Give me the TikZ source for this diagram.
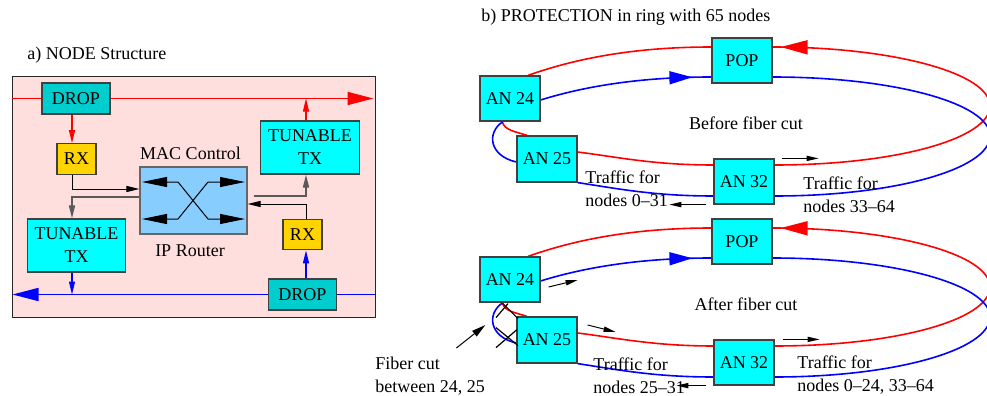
\documentclass[tikz,border=0pt]{standalone}
\usepackage{fontspec}
\setmainfont{Liberation Serif}
\usetikzlibrary{arrows.meta,calc,decorations.markings}
\definecolor{pinkbg}{RGB}{255,222,222}
\definecolor{dropc}{RGB}{0,205,205}
\definecolor{rxc}{RGB}{255,212,0}
\definecolor{routerc}{RGB}{135,206,255}
\definecolor{cyanc}{RGB}{0,255,255}
\newcommand\figfont{\fontsize{9}{11.5}\selectfont}
\pgfdeclarelayer{backlayer}
\pgfdeclarelayer{linelayer}
\pgfsetlayers{backlayer,linelayer,main}
\newcommand\ringnodes[2]{%
  \node[ringnode] (POP#1) at (742,60.5+#2) {POP};
  \node[ringnode] (AN24#1) at (510,98.5+#2) {AN 24};
  \node[ringnode, minimum height=23pt] (AN25#1) at (547,159+#2) {AN 25};
  \node[ringnode] (AN32#1) at (744,181.5+#2) {AN 32};
  \coordinate (RR#1) at ($(POP#1.center)+(248,45.5)$);
  \coordinate (BR#1) at ($(POP#1.center)+(248,75.5)$);
}
\newcommand\ringlines[1]{%
  % red ring
  \draw[redring] ($(POP#1.west)+(0,-13.5)$) .. controls +(-80,0) and +(45,-16) .. ($(AN24#1.north)+(18,0)$);
  \draw[redring, redarr=-4pt] ($(AN32#1.east)+(0,-16.5)$) .. controls +(120,0) and +(0,33) .. (RR#1)
      .. controls +(0,-33) and +(120,0) .. ($(POP#1.east)+(0,-13.5)$);
  \draw[redring] ($(AN25#1.east)+(0,-7)$) .. controls +(40,5) and +(-60,0) .. ($(AN32#1.west)+(0,-16.5)$);
  \draw[redring] ($(AN24#1.south)+(-8,0)$) .. controls +(3,9) and +(-12,-4) .. ($(AN25#1.north)+(-20,0)$);
  % blue ring
  \draw[bluering, bluearr=-9.5pt] ($(AN24#1.east)+(0,1.5)$) .. controls +(45,-14) and +(-70,0) .. ($(POP#1.west)+(0,16.5)$);
  \draw[bluering] ($(POP#1.east)+(0,16.5)$) .. controls +(120,0) and +(0,-33) .. (BR#1)
      .. controls +(0,33) and +(120,0) .. ($(AN32#1.east)+(0,14.5)$);
  \draw[bluering] ($(AN32#1.west)+(0,14.5)$) .. controls +(-60,0) and +(40,6) .. (AN25#1.south east);
  \draw[bluering] ($(AN25#1.west)+(0,3)$) .. controls +(-27,-6) and +(-17,11) .. ($(AN24#1.south)+(-7,0)$);
}
\begin{document}
\begin{tikzpicture}[x=0.5pt,y=-0.5pt, font=\figfont,
  box/.style={draw=black!75, line width=0.6pt, inner sep=0pt, align=center},
  dropbox/.style={box, fill=dropc, minimum width=34pt, minimum height=15.5pt},
  rxbox/.style={box, fill=rxc, minimum width=19.5pt, minimum height=15.25pt},
  txbox/.style={box, fill=cyanc, minimum width=49.25pt, minimum height=26.5pt},
  ringnode/.style={box, fill=cyanc, minimum width=30pt, minimum height=22.5pt},
  lbl/.style={inner sep=0pt, align=left},
  redmain/.style={draw=red, line width=0.8pt, -{Triangle[length=13pt,width=6.5pt]}},
  bluemain/.style={draw=blue, line width=0.8pt, -{Triangle[length=13pt,width=6.5pt]}},
  redthin/.style={draw=red, line width=0.6pt, -{Triangle[length=6.5pt,width=3pt]}},
  bluethin/.style={draw=blue, line width=0.6pt, -{Triangle[length=6.5pt,width=3pt]}},
  blk/.style={draw=black, line width=0.5pt, -{Triangle[length=6.5pt,width=3pt]}},
  gryline/.style={draw=black!65, line width=0.8pt, -{Triangle[length=6.5pt,width=3pt]}},
  bigtip/.style={draw=black, line width=0.5pt, {Triangle[length=12.5pt,width=5pt]}-{Triangle[length=12.5pt,width=5pt]}},
  redring/.style={draw=red, line width=0.8pt},
  bluering/.style={draw=blue, line width=0.8pt},
  redarr/.style={postaction={decorate}, decoration={markings, mark=at position #1 with {\arrow{Triangle[length=13.5pt,width=7pt]}}}},
  bluearr/.style={postaction={decorate}, decoration={markings, mark=at position #1 with {\arrow{Triangle[length=11.5pt,width=6.5pt]}}}},
  tinyarrow/.style={draw=black, line width=0.5pt, -{Triangle[length=6pt,width=2.6pt]}},
  cutline/.style={draw=black, line width=0.6pt},
]
\useasboundingbox (0,0) rectangle (987,396);

% ---------------- a) NODE Structure ----------------
\begin{pgfonlayer}{backlayer}
  \node[draw=black!85, line width=0.5pt, fill=pinkbg, minimum width=181.5pt, minimum height=120.5pt, inner sep=0pt] (bg) at (193.5,196.5) {};
\end{pgfonlayer}

\node[lbl, anchor=west] (ttla) at (27,55) {a) NODE Structure};
\node[dropbox] (DROP1) at (76,98.5) {DROP};
\node[rxbox] (RX1) at (76.5,159) {RX};
\node[txbox] (TTX1) at (310,147.5) {TUNABLE\\TX};
\node[box, fill=routerc, draw=black!60, minimum width=53.5pt, minimum height=33.5pt] (R) at (193.5,200.5) {};
\node[txbox] (TTX2) at (76.5,245.5) {TUNABLE\\TX};
\node[rxbox] (RX2) at (302.5,234.5) {RX};
\node[dropbox] (DROP2) at (302.5,294.5) {DROP};
\node[lbl] (mac) at (190.5,153) {MAC Control};
\node[lbl] (ipr) at (190,251) {IP Router};

\draw[bigtip] ($(R.center)+(-51.5,-18.5)$) -- ++(36,0) -- ++(30,37) -- ++(37,0);
\draw[bigtip] ($(R.center)+(-51.5,18.5)$) -- ++(36,0) -- ++(30,-37) -- ++(37,0);

\begin{pgfonlayer}{linelayer}
  \coordinate (colL) at (72,0);
  \coordinate (colR) at (306,0);
  \draw[redmain] (bg.west |- DROP1.center) -- ($(bg.east |- DROP1.center)+(-2,0)$);
  \draw[bluemain] (bg.east |- DROP2.center) -- ($(bg.west |- DROP2.center)+(1,0)$);
  \draw[redthin] (DROP1.south -| colL) -- (RX1.north -| colL);
  \draw[redthin] (TTX1.north -| colR) -- (DROP1.center -| colR);
  \draw[bluethin] (TTX2.south -| colL) -- (DROP2.center -| colL);
  \draw[bluethin] (DROP2.north -| colR) -- (RX2.south -| colR);
  \draw[blk] (RX1.south -| colL) |- ($(R.west)+(0,-11.5)$);
  \draw[gryline] ($(R.west)+(0,-3.5)$) -| (TTX2.north -| colL);
  \draw[gryline] ($(R.east)+(6,-4.5)$) -| (TTX1.south -| colR);
  \draw[blk] (RX2.north -| colR) |- ($(R.east)+(0,3.5)$);
\end{pgfonlayer}

% ---------------- b) PROTECTION ----------------
\node[lbl, anchor=west] (ttlb) at (481,17) {b) PROTECTION in ring with 65 nodes};

\ringnodes{a}{0}
\ringnodes{b}{181}

\begin{pgfonlayer}{linelayer}
  \ringlines{a}
  \ringlines{b}
\end{pgfonlayer}

\node[lbl] (bfc) at (746,123) {Before fiber cut};
\node[lbl, anchor=west] (tfa) at (585,188.5) {Traffic for\\nodes 0--31};
\node[lbl, anchor=west] (tfb) at (803,195) {Traffic for\\nodes 33--64};
\draw[tinyarrow] ($(AN32a.north east)+(7,0)$) -- ++(37,0);
\draw[tinyarrow] ($(AN32a.south west)+(-7,0)$) -- ++(-37,0);

\node[lbl] (afc) at (746,304) {After fiber cut};
\node[lbl, anchor=west] (tfc) at (593,375.5) {Traffic for\\nodes 25--31};
\node[lbl, anchor=west] (tfd) at (797,375.5) {Traffic for\\nodes 0--24, 33--64};
\node[lbl, anchor=west] (fcut) at (375,376) {Fiber cut\\between 24, 25};
\draw[tinyarrow] ($(AN32b.north east)+(8,0)$) -- ++(37,0);
\draw[tinyarrow] ($(AN32b.south west)+(-7,0)$) -- ++(-30,0);
\draw[tinyarrow] ($(AN24b.east)+(8,7.5)$) -- ++(29,-7);
\draw[tinyarrow] ($(AN25b.east)+(10,-15)$) -- ++(28,7);
\draw[draw=black, line width=0.5pt, -{Triangle[length=7pt,width=3.5pt]}] ($(AN25b.west)+(-60,8)$) -- ++(29,-23);

\draw[cutline] ($(AN24b.south)+(-7,1)$) -- ++(15,15);
\draw[cutline] ($(AN24b.south)+(-2,1)$) -- ++(-12,14);
\draw[cutline] ($(AN24b.south)+(-14,25)$) -- ++(22,18);
\draw[cutline] ($(AN24b.south)+(7,27)$) -- ++(-21,18);
\end{tikzpicture}
\end{document}
